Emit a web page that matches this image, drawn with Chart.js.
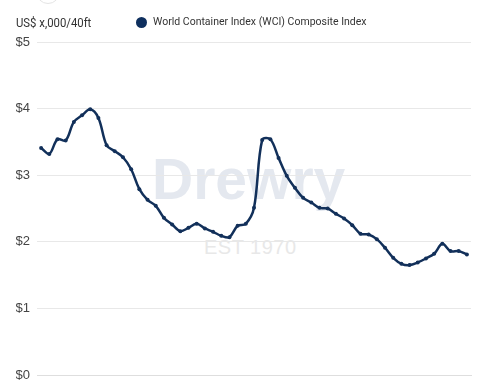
<!DOCTYPE html>
<html><head><meta charset="utf-8">
<script src="https://cdn.jsdelivr.net/npm/chart.js@4/dist/chart.umd.min.js"></script>
<style>
html,body{margin:0;padding:0;background:#fff;overflow:hidden;}
#wrap{position:relative;width:480px;height:440px;}
.abs{position:absolute;white-space:nowrap;}
canvas{position:absolute;left:0;top:0;z-index:2;}
</style></head><body>
<div id="wrap">
  <div class="abs" style="left:36px;top:-20px;width:22px;height:22px;border:1.5px solid #e4e4e4;border-radius:50%;"></div>
  <div class="abs" style="left:152px;top:146px;font:bold 57px 'Liberation Sans',Arial,sans-serif;color:#e4e8ef;z-index:0;">Drewry</div>
  <div class="abs" style="left:204px;top:236px;font:20px 'Liberation Sans',Arial,sans-serif;color:#e8e8e8;letter-spacing:0.5px;z-index:0;">EST 1970</div>
  <div class="abs" style="left:16px;top:14px;font:13.5px Roboto,sans-serif;color:#333;z-index:3;transform:scaleX(0.84);transform-origin:0 0;">US$ x,000/40ft</div>
  <div class="abs" style="left:135.5px;top:16.5px;width:11px;height:11px;border-radius:50%;background:#0e2f5e;z-index:3;"></div>
  <div class="abs" style="left:153px;top:15px;font:11px Roboto,sans-serif;color:#333;z-index:3;transform:scaleX(0.955);transform-origin:0 0;">World Container Index (WCI) Composite Index</div>
  <canvas id="c" width="480" height="440"></canvas>
</div>
<script>
const weeks = ["05-Dec-24","12-Dec-24","19-Dec-24","26-Dec-24","02-Jan-25","09-Jan-25","16-Jan-25","23-Jan-25","30-Jan-25","06-Feb-25","13-Feb-25","20-Feb-25","27-Feb-25","06-Mar-25","13-Mar-25","20-Mar-25","27-Mar-25","03-Apr-25","10-Apr-25","17-Apr-25","24-Apr-25","01-May-25","08-May-25","15-May-25","22-May-25","29-May-25","05-Jun-25","12-Jun-25","19-Jun-25","26-Jun-25","03-Jul-25","10-Jul-25","17-Jul-25","24-Jul-25","31-Jul-25","07-Aug-25","14-Aug-25","21-Aug-25","28-Aug-25","04-Sep-25","11-Sep-25","18-Sep-25","25-Sep-25","02-Oct-25","09-Oct-25","16-Oct-25","23-Oct-25","30-Oct-25","06-Nov-25","13-Nov-25","20-Nov-25","27-Nov-25","04-Dec-25"];
const wciComposite = [3.41,3.32,3.54,3.52,3.80,3.90,3.99,3.86,3.45,3.36,3.27,3.09,2.79,2.63,2.54,2.36,2.26,2.16,2.21,2.27,2.20,2.15,2.09,2.07,2.24,2.27,2.51,3.53,3.54,3.26,2.99,2.81,2.66,2.59,2.51,2.50,2.42,2.35,2.25,2.12,2.11,2.04,1.91,1.76,1.67,1.65,1.69,1.75,1.82,1.97,1.86,1.86,1.81];
const yTicks = [0,1,2,3,4,5];
const seriesName = "World Container Index (WCI) Composite Index";

new Chart(document.getElementById('c'), {
  type: 'line',
  data: {
    labels: weeks,
    datasets: [{
      label: seriesName,
      data: wciComposite,
      borderColor: '#12305a',
      backgroundColor: '#12305a',
      borderWidth: 2.5,
      pointRadius: 2,
      pointHoverRadius: 2,
      pointBackgroundColor: '#12305a',
      pointBorderWidth: 0,
      tension: 0.35,
      fill: false
    }]
  },
  options: {
    responsive: false,
    animation: false,
    layout: { padding: { left: 16, top: 42, right: 9, bottom: 0 } },
    plugins: { legend: { display: false }, title: { display: false }, tooltip: { enabled: false } },
    scales: {
      y: {
        min: yTicks[0], max: yTicks[yTicks.length-1],
        afterBuildTicks: (s) => { s.ticks = yTicks.map(v => ({ value: v })); },
        afterFit: (s) => { s.width = 21; },
        ticks: { callback: v => '$' + v, font: { size: 13, family: "'Liberation Sans', Arial, sans-serif" }, color: '#444', padding: 7 },
        grid: { color: '#e8e8e8', drawTicks: false, lineWidth: 1 },
        border: { display: false }
      },
      x: {
        offset: true,
        afterFit: (s) => { s.height = 65; s.paddingLeft = 0; s.paddingRight = 0; },
        grid: { display: false },
        border: { color: '#dedede' },
        ticks: {
          autoSkip: false, minRotation: 90, maxRotation: 90, padding: 6,
          callback: (v, i) => (i % 2 === 0 ? weeks[i] : ''),
          font: { size: 10, family: "'Liberation Sans', Arial, sans-serif" }, color: '#555'
        }
      }
    }
  }
});
</script>
</body></html>
